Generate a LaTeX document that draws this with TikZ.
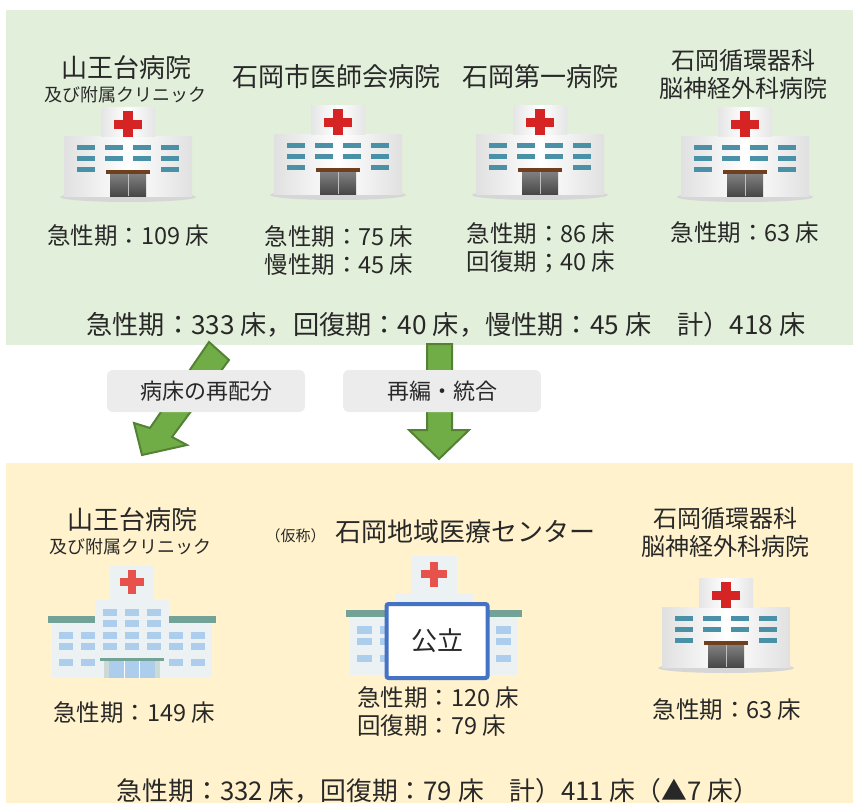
\documentclass[tikz,border=0pt]{standalone}
\usepackage{fontspec}
\setmainfont{Noto Sans CJK JP}
\usepackage{tikz}
\usetikzlibrary{positioning}
\definecolor{hpGreenBg} {RGB}{226,239,218}
\definecolor{hpYellowBg}{RGB}{255,242,204}
\definecolor{hpArrow}   {RGB}{112,173, 71}
\definecolor{hpArrowD}  {RGB}{ 84,130, 53}
\definecolor{hpTag}     {RGB}{236,236,236}
\definecolor{hpInk}     {RGB}{ 40, 40, 40}
\definecolor{hpBlue}    {RGB}{ 68,114,196}
\definecolor{hpRed}     {RGB}{214, 36, 36}
\definecolor{hpTeal}    {RGB}{ 74,145,168}
\definecolor{hpBrown}   {RGB}{112, 64, 30}
\definecolor{hpWall}    {RGB}{236,241,243}
\definecolor{hpRoof}    {RGB}{115,163,150}
\definecolor{hpWin}     {RGB}{173,205,236}
\definecolor{hpCross}   {RGB}{232, 82, 76}
\definecolor{hpPost}    {RGB}{204,218,214}

% hospital icons, origin at the bottom centre of the main block
\tikzset{
  pics/hosp3d/.style={code={
    \fill[black!16] (0,0) ellipse [x radius=68, y radius=5];
    \shade[left color=black!12,right color=black!12,middle color=white] (-64,-61) rectangle (64,-1);
    \shade[left color=black!10,right color=black!10,middle color=white] (-27,-90) rectangle (27,-61);
    \fill[hpRed] (-14,-77) rectangle (14,-68);
    \fill[hpRed] (-5,-86) rectangle (5,-60);
    \foreach \cx/\nrow in {-42/3,-14/2,14/2,42/3}
      \foreach \r in {1,...,\nrow}
        \fill[hpTeal] ({\cx-9},{-63.5+11*\r}) rectangle ++(18,5);
    \fill[hpBrown] (-22,-27) rectangle (22,-23);
    \shade[top color=black!50,bottom color=black!72] (-18,-23) rectangle (18,-1);
    \draw[black!25,line width=1pt] (0,-23) -- (0,-1);
  }},
  pics/hospflat/.style={code={
    \fill[hpWall] (-22,-113) rectangle (22,-78);
    \fill[hpCross] (-12,-100) rectangle (12,-92);
    \fill[hpCross] (-4,-108) rectangle (4,-84);
    \fill[hpWall] (-37,-78) rectangle (37,0);
    \fill[hpWall] (-80,-55) rectangle (80,0);
    \fill[hpRoof] (-84,-62) rectangle (-37,-55);
    \fill[hpRoof] (37,-62) rectangle (84,-55);
    \foreach \cx in {-22,0,22}
      \foreach \cy in {-66,-55,-43,-32}
        \fill[hpWin] ({\cx-7},{\cy-3.5}) rectangle ++(14,7);
    \foreach \cx in {-66,-44,44,66}
      \foreach \cy in {-43,-32,-16}
        \fill[hpWin] ({\cx-7},{\cy-3.5}) rectangle ++(14,7);
    \fill[hpRoof] (-32,-20) rectangle (32,-17);
    \fill[hpPost] (-28,-17) rectangle (28,0);
    \fill[hpWin] (-23,-17) rectangle (23,0);
    \draw[white,line width=0.8pt] (-7.7,-17) -- (-7.7,0) (7.7,-17) -- (7.7,0);
  }}
}

\begin{document}
\begin{tikzpicture}[x=1pt,y=-1pt,
  every node/.style={text=hpInk,inner sep=0pt},
  hname/.style={font=\fontsize{26}{30}\selectfont},
  hname2/.style={font=\fontsize{24}{28}\selectfont,align=center},
  hsub/.style={font=\fontsize{18}{22}\selectfont},
  beds/.style={font=\fontsize{23.5}{28}\selectfont,align=left},
  total/.style={font=\fontsize{26.2}{30}\selectfont},
  tag/.style={fill=hpTag,rounded corners=6pt,minimum width=198pt,minimum height=42pt,font=\fontsize{22}{26}\selectfont},
  blockarrow/.style={fill=hpArrow,draw=hpArrowD,line width=2pt},
  pubbox/.style={draw=hpBlue,fill=white,line width=4pt,rounded corners=2pt,minimum width=101pt,minimum height=74pt,font=\fontsize{26}{30}\selectfont}
]
\useasboundingbox (0,0) rectangle (855,803);

% panels
\fill[hpGreenBg] (6,10) rectangle (853,345);
\fill[hpYellowBg] (6,463) rectangle (853,803);

% current hospitals
\node[hname] (t1) at (126,68) {山王台病院};
\node[hsub] (t1s) at (126,95) {及び附属クリニック};
\node[hname] (t2) at (336,77) {石岡市医師会病院};
\node[hname] (t3) at (540,77) {石岡第一病院};
\node[hname2] (t4) at (743,74) {石岡循環器科\\脳神経外科病院};

\pic at (128,197) {hosp3d};
\pic at (338,195) {hosp3d};
\pic at (540,195) {hosp3d};
\pic at (745,197) {hosp3d};

\node[beds] (b1) at (128,236) {急性期：109 床};
\node[beds] (b2) at (339,251) {急性期：75 床\\慢性期：45 床};
\node[beds] (b3) at (541,248) {急性期：86 床\\回復期；40 床};
\node[beds] (b4) at (745,233) {急性期：63 床};
\node[total] (sumA) at (446,325) {急性期：333 床，回復期：40 床，慢性期：45 床　計）418 床};

% arrows between the two panels
\draw[blockarrow] (209,342) -- (229,360) -- (172,437) -- (187,445) -- (142,455) -- (134,423) -- (150,428) -- cycle;
\draw[blockarrow] (427,344) -- (452,344) -- (452,430) -- (469,430) -- (439,459) -- (409,430) -- (427,430) -- cycle;
\node[tag] (redist) at (206,391) {病床の再配分};
\node[tag] (merge) at (442,391) {再編・統合};

% after the reorganisation
\node[hname] (u1) at (132,520) {山王台病院};
\node[hsub] (u1s) at (130,547) {及び附属クリニック};
\node[hname] (u2) at (465,532) {石岡地域医療センター};
\node[font=\fontsize{15}{18}\selectfont,left=9pt of u2.base west,anchor=base east] (u2k) {（仮称）};
\node[hname2] (u3) at (725,532) {石岡循環器科\\脳神経外科病院};

\pic at (132,678) {hospflat};
\pic[scale=1.05] at (434,675) {hospflat};
\node[pubbox] (pub) at (437,641) {公立};
\pic at (726,668) {hosp3d};

\node[beds] (c1) at (134,713) {急性期：149 床};
\node[beds,anchor=west] (c2) at (357,712) {急性期：120 床\\回復期：79 床};
\node[beds] (c3) at (727,710) {急性期：63 床};
\node[total,font=\fontsize{25.8}{30}\selectfont] (sumB) at (438,791) {急性期：332 床，回復期：79 床　計）411 床（▲7 床）};
\end{tikzpicture}
\end{document}
